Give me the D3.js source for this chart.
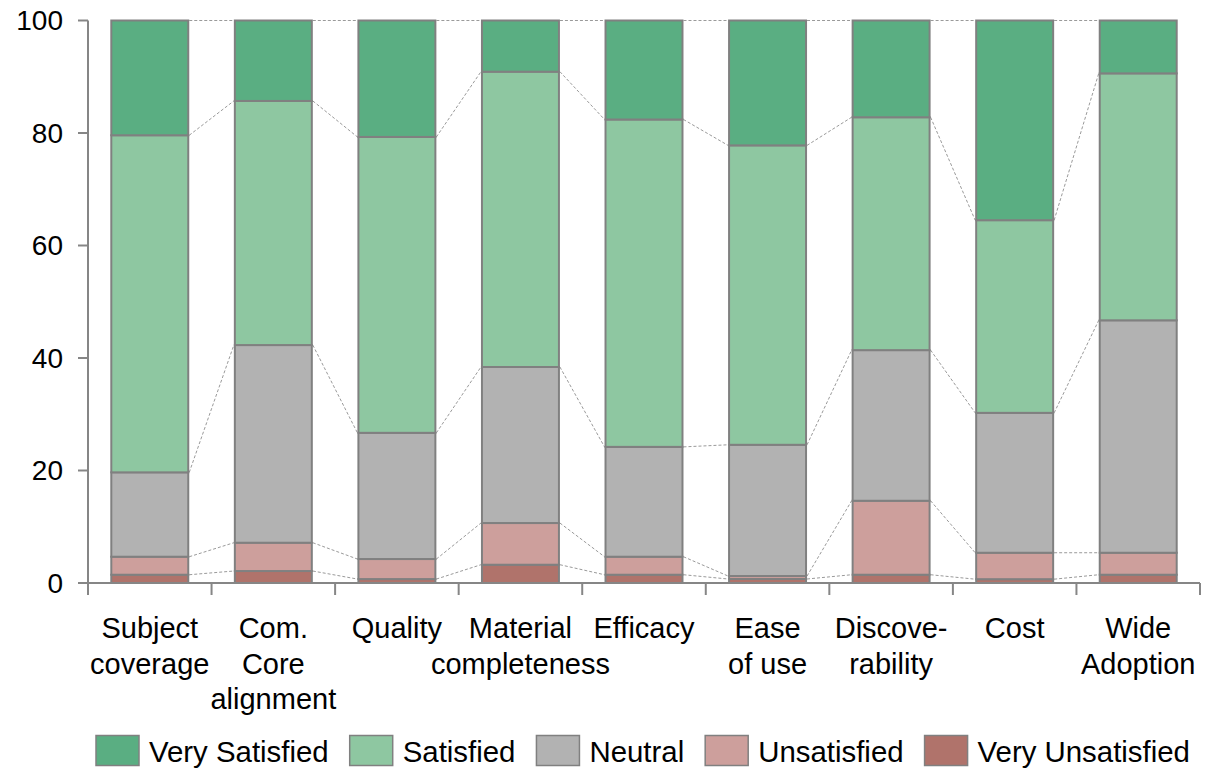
<!DOCTYPE html>
<html>
<head>
<meta charset="utf-8">
<script src="https://cdn.jsdelivr.net/npm/d3@7"></script>
<style>
  html, body { margin: 0; padding: 0; background: #fff; }
  svg { display: block; font-family: "Liberation Sans", Arial, sans-serif; }
</style>
</head>
<body>
<svg id="chart" width="1207" height="768"></svg>
<script>
// Satisfaction survey: share of responses (%) per aspect
const categories = [
  ["Subject", "coverage"],
  ["Com.", "Core", "alignment"],
  ["Quality"],
  ["Material", "completeness"],
  ["Efficacy"],
  ["Ease", "of use"],
  ["Discove-", "rability"],
  ["Cost"],
  ["Wide", "Adoption"]
];
const seriesNames = ["Very Unsatisfied", "Unsatisfied", "Neutral", "Satisfied", "Very Satisfied"];
const veryUnsatisfied = [1.47, 2.13, 0.70, 3.25, 1.47, 0.71, 1.47, 0.68, 1.47];
const unsatisfied     = [3.20, 5.03, 3.56, 7.41, 3.20, 0.53, 13.15, 4.70, 3.91];
const neutral         = [15.00, 35.14, 22.44, 27.74, 19.53, 23.33, 26.78, 24.87, 41.32];
const satisfied       = [59.93, 43.40, 52.60, 52.50, 58.20, 53.23, 41.40, 34.25, 43.90];
const verySatisfied   = [20.40, 14.30, 20.70, 9.10, 17.60, 22.20, 17.20, 35.50, 9.40];
const yTicks = [0, 20, 40, 60, 80, 100];
const legendOrder = ["Very Satisfied", "Satisfied", "Neutral", "Unsatisfied", "Very Unsatisfied"];

const colors = {
  "Very Satisfied": "#5aae82",
  "Satisfied": "#8ec7a1",
  "Neutral": "#b2b2b2",
  "Unsatisfied": "#cd9f9c",
  "Very Unsatisfied": "#b0736b"
};
const seriesValues = [veryUnsatisfied, unsatisfied, neutral, satisfied, verySatisfied];

const keys = categories.map(c => c.join(" "));
const rows = keys.map((k, i) => {
  const r = { key: k };
  seriesNames.forEach((s, j) => r[s] = seriesValues[j][i]);
  return r;
});
const stacked = d3.stack().keys(seriesNames)(rows);

const svg = d3.select("#chart");
const axisColor = "#868686";
const plotLeft = 88, plotRight = 1200, plotTop = 20.5, plotBottom = 583;
const pad = 0.377;

const x = d3.scaleBand().domain(keys).range([plotLeft, plotRight])
  .paddingInner(pad).paddingOuter(pad / 2);
const y = d3.scaleLinear().domain([0, 100]).range([plotBottom, plotTop]);
const bw = x.bandwidth();

// dashed connectors between neighbouring bars at each segment boundary
const conn = svg.append("g");
stacked.forEach(layer => {
  for (let i = 0; i < keys.length - 1; i++) {
    conn.append("line")
      .attr("x1", x(keys[i]) + bw + 1)
      .attr("x2", x(keys[i + 1]) - 1)
      .attr("y1", y(layer[i][1]))
      .attr("y2", y(layer[i + 1][1]))
      .attr("stroke", "#9a9a9a")
      .attr("stroke-width", 1)
      .attr("stroke-dasharray", "3,2");
  }
});

// stacked bars
const bars = svg.append("g");
stacked.forEach(layer => {
  bars.selectAll(null).data(layer).enter().append("rect")
    .attr("x", d => x(d.data.key))
    .attr("width", bw)
    .attr("y", d => y(d[1]))
    .attr("height", d => y(d[0]) - y(d[1]))
    .attr("fill", colors[layer.key])
    .attr("stroke", "#808080")
    .attr("stroke-width", 2);
});

// y axis
const yAxis = svg.append("g");
yAxis.append("line")
  .attr("x1", plotLeft).attr("x2", plotLeft).attr("y1", y(100)).attr("y2", y(0))
  .attr("stroke", axisColor).attr("stroke-width", 2);
yTicks.forEach(t => {
  yAxis.append("line")
    .attr("x1", plotLeft - 10).attr("x2", plotLeft).attr("y1", y(t)).attr("y2", y(t))
    .attr("stroke", axisColor).attr("stroke-width", 2);
  yAxis.append("text")
    .attr("x", 63).attr("y", y(t))
    .attr("dy", "0.35em")
    .attr("text-anchor", "end")
    .attr("font-size", 28)
    .attr("fill", "#000")
    .text(t);
});

// x axis
const xAxis = svg.append("g");
xAxis.append("line")
  .attr("x1", plotLeft).attr("x2", plotRight).attr("y1", y(0)).attr("y2", y(0))
  .attr("stroke", axisColor).attr("stroke-width", 2);
const step = x.step();
const tickXs = keys.map(k => x(k) - step * pad / 2).concat([plotRight]);
tickXs.forEach(tx => {
  xAxis.append("line")
    .attr("x1", tx).attr("x2", tx).attr("y1", y(0)).attr("y2", y(0) + 12)
    .attr("stroke", axisColor).attr("stroke-width", 2);
});
categories.forEach((lines, i) => {
  const cx = x(keys[i]) + bw / 2;
  const t = xAxis.append("text")
    .attr("text-anchor", "middle")
    .attr("font-size", 29)
    .attr("fill", "#000");
  lines.forEach((ln, j) => {
    t.append("tspan").attr("x", cx).attr("y", 638 + j * 35.5).text(ln);
  });
});

// legend
const legend = svg.append("g");
let lx = 96;
legendOrder.forEach(name => {
  legend.append("rect")
    .attr("x", lx).attr("y", 735.5).attr("width", 43).attr("height", 30)
    .attr("fill", colors[name])
    .attr("stroke", "#808080").attr("stroke-width", 1.5);
  const txt = legend.append("text")
    .attr("x", lx + 53).attr("y", 762)
    .attr("font-size", 29.4)
    .attr("fill", "#000")
    .text(name);
  lx = lx + 53 + txt.node().getComputedTextLength() + 21;
});
</script>
</body>
</html>
